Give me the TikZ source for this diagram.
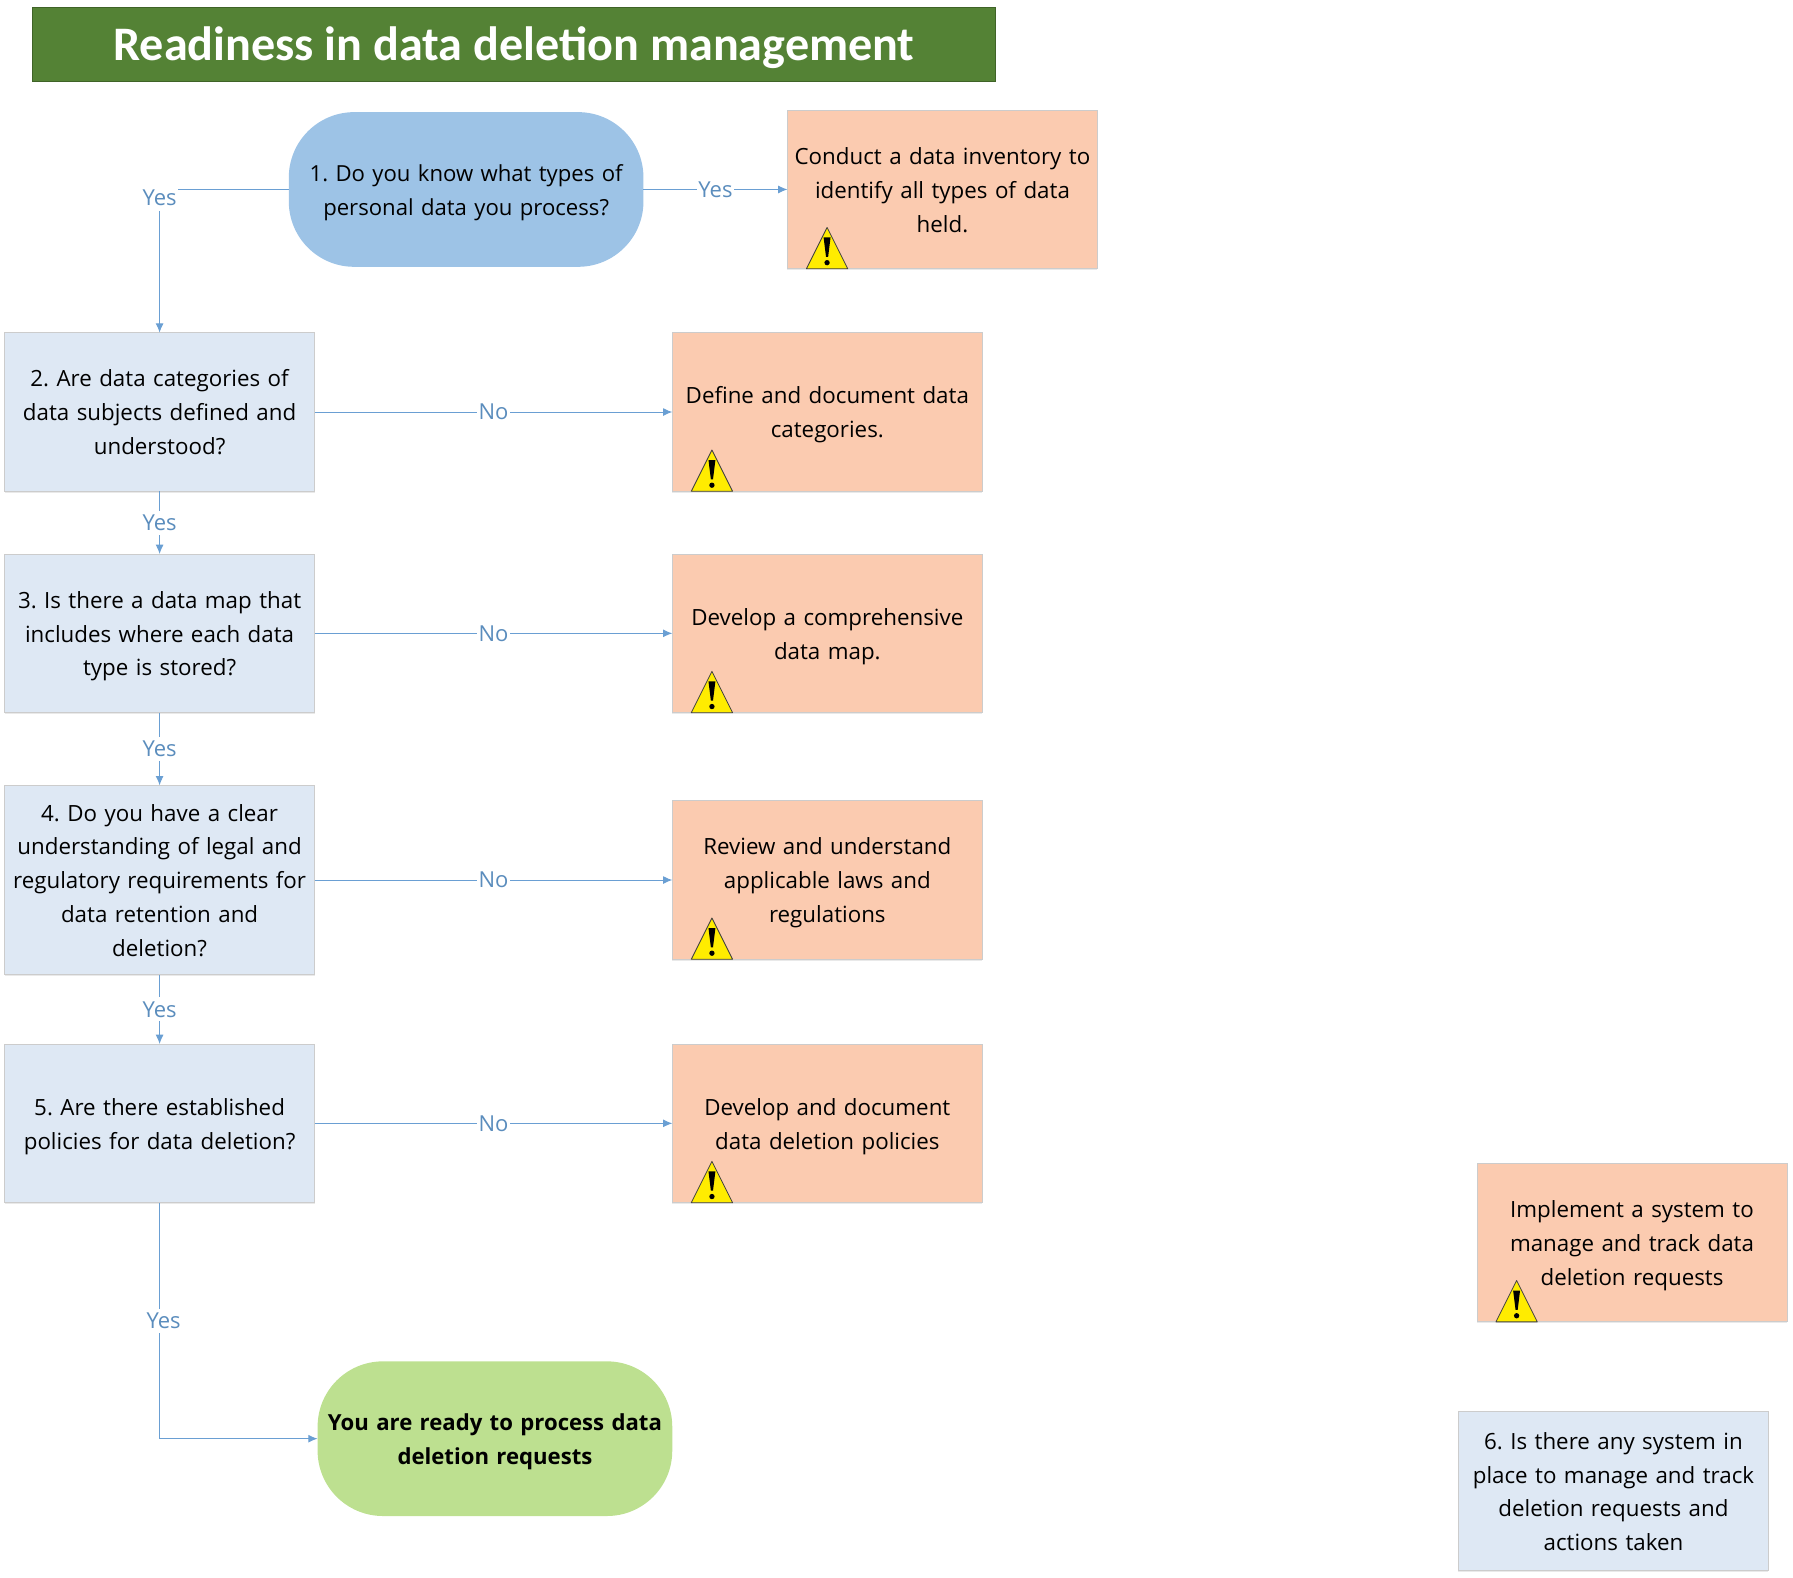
\documentclass[tikz,border=0pt]{standalone}
\usepackage{fontspec}
\setmainfont{Open Sans}
\newfontfamily\titlefont{Carlito}
\usetikzlibrary{arrows.meta,positioning,shadows}
\definecolor{question}{HTML}{DEE8F4}
\definecolor{action}{HTML}{FBCBB0}
\definecolor{start}{HTML}{9DC3E6}
\definecolor{finish}{HTML}{BDE090}
\definecolor{banner}{HTML}{548235}
\definecolor{banneredge}{HTML}{3F6327}
\definecolor{wire}{HTML}{6A9FD3}
\definecolor{wiretext}{HTML}{5B8DBD}
\definecolor{warnfill}{HTML}{FFEC00}
\pgfdeclareverticalshading{bannershade}{100bp}{color(0bp)=(banneredge); color(9bp)=(banner); color(91bp)=(banner); color(100bp)=(banneredge)}
\tikzset{
  >={Latex[length=7pt,width=6pt]},
  every node/.style={font=\fontsize{16.75}{25.4}\selectfont,text=black,outer sep=0pt},
  softshadow/.style={drop shadow={shadow xshift=0pt,shadow yshift=-1.2pt,opacity=.14,fill=black!60}},
  boxtext/.style={execute at begin node=\frenchspacing\rule{0pt}{20.8pt},execute at end node=\strut},
  questionbox/.style={draw=black!20,line width=.6pt,fill=question,minimum width=232.5pt,minimum height=119pt,align=center,inner sep=3pt,text width=224pt,softshadow,boxtext},
  actionbox/.style={questionbox,fill=action},
  terminal/.style={rounded corners=49pt,minimum height=116pt,align=center,inner sep=2pt,text width=260pt,execute at begin node=\frenchspacing\rule{0pt}{21pt},execute at end node=\strut},
  titlebox/.style={draw=banneredge,line width=.8pt,shading=bannershade,minimum width=722pt,minimum height=56pt,font=\titlefont\fontsize{36.1}{40}\selectfont\bfseries,text=white,execute at begin node=\rule{0pt}{29.4pt}},
  arrow/.style={->,draw=wire,line width=.75pt},
  label/.style={fill=white,inner xsep=1pt,inner ysep=3pt,text=wiretext,font=\fontsize{16.5}{20}\selectfont},
}
\newcommand{\warnsign}[1]{
  \draw[fill=warnfill,draw=black!75,line width=.6pt,line join=round]
    ([xshift=14.2pt]#1.south west) -- ++(31pt,0) -- ++(-15.5pt,31pt) -- cycle;
  \fill[black] ([xshift=27.1pt,yshift=23.5pt]#1.south west) -- ++(5.2pt,0) -- ++(-1.8pt,-14.5pt) -- ++(-1.6pt,0) -- cycle;
  \fill[black] ([xshift=29.7pt,yshift=4.6pt]#1.south west) circle (2pt);
}

\begin{document}
\begin{tikzpicture}
\useasboundingbox (0,0) rectangle (1344.75pt,-1183.5pt);

\node[titlebox] (title) at (385.5pt,-33.4pt) {Readiness in data deletion management};

\node[terminal,fill=start,minimum width=266pt,font=\fontsize{16.6}{25.4}\selectfont] (q1) at (349.6pt,-142.1pt) {1. Do you know what types of\\personal data you process?};
\node[actionbox,right=108pt of q1] (a1) {Conduct a data inventory to\\identify all types of data\\held.};

\node[questionbox] (q2) at (119.7pt,-309pt) {2. Are data categories of\\data subjects defined and\\understood?};
\node[questionbox,below=47pt of q2] (q3) {3. Is there a data map that\\includes where each data\\type is stored?};
\node[questionbox,minimum height=142pt,below=54.5pt of q3] (q4) {4. Do you have a clear\\understanding of legal and\\regulatory requirements for\\data retention and\\deletion?};
\node[questionbox,below=52pt of q4] (q5) {5. Are there established\\policies for data deletion?};

\node[actionbox,right=268.3pt of q2] (a2) {Define and document data\\categories.};
\node[actionbox,right=268.3pt of q3] (a3) {Develop a comprehensive\\data map.};
\node[actionbox,right=268.3pt of q4] (a4) {Review and understand\\applicable laws and\\regulations};
\node[actionbox,right=268.3pt of q5] (a5) {Develop and document\\data deletion policies};

\node[terminal,fill=finish,minimum width=266pt,font=\fontsize{16.6}{25.4}\selectfont\bfseries,below right=119pt and 2.25pt of q5] (done) {You are ready to process data\\deletion requests};

\node[actionbox] (a6) at (1224pt,-931.9pt) {Implement a system to\\manage and track data\\deletion requests};
\node[questionbox,below=67.5pt of a6,xshift=-13.9pt] (q6) {6. Is there any system in\\place to manage and track\\deletion requests and\\actions taken};

\warnsign{a1}
\warnsign{a2}
\warnsign{a3}
\warnsign{a4}
\warnsign{a5}
\warnsign{a6}

\draw[arrow] (q1.west) -| node[label,pos=.53,inner ysep=4pt] {Yes} (q2.north);
\draw[arrow] (q1) -- node[label] {Yes} (a1);
\draw[arrow] (q2) -- node[label] {No} (a2);
\draw[arrow] (q3) -- node[label] {No} (a3);
\draw[arrow] (q4) -- node[label] {No} (a4);
\draw[arrow] (q5) -- node[label] {No} (a5);
\draw[arrow] (q2) -- node[label] {Yes} (q3);
\draw[arrow] (q3) -- node[label] {Yes} (q4);
\draw[arrow] (q4) -- node[label] {Yes} (q5);
\draw[arrow] (q5.south) |- node[label,pos=.25,xshift=3pt] {Yes} (done.west);

\end{tikzpicture}
\end{document}
